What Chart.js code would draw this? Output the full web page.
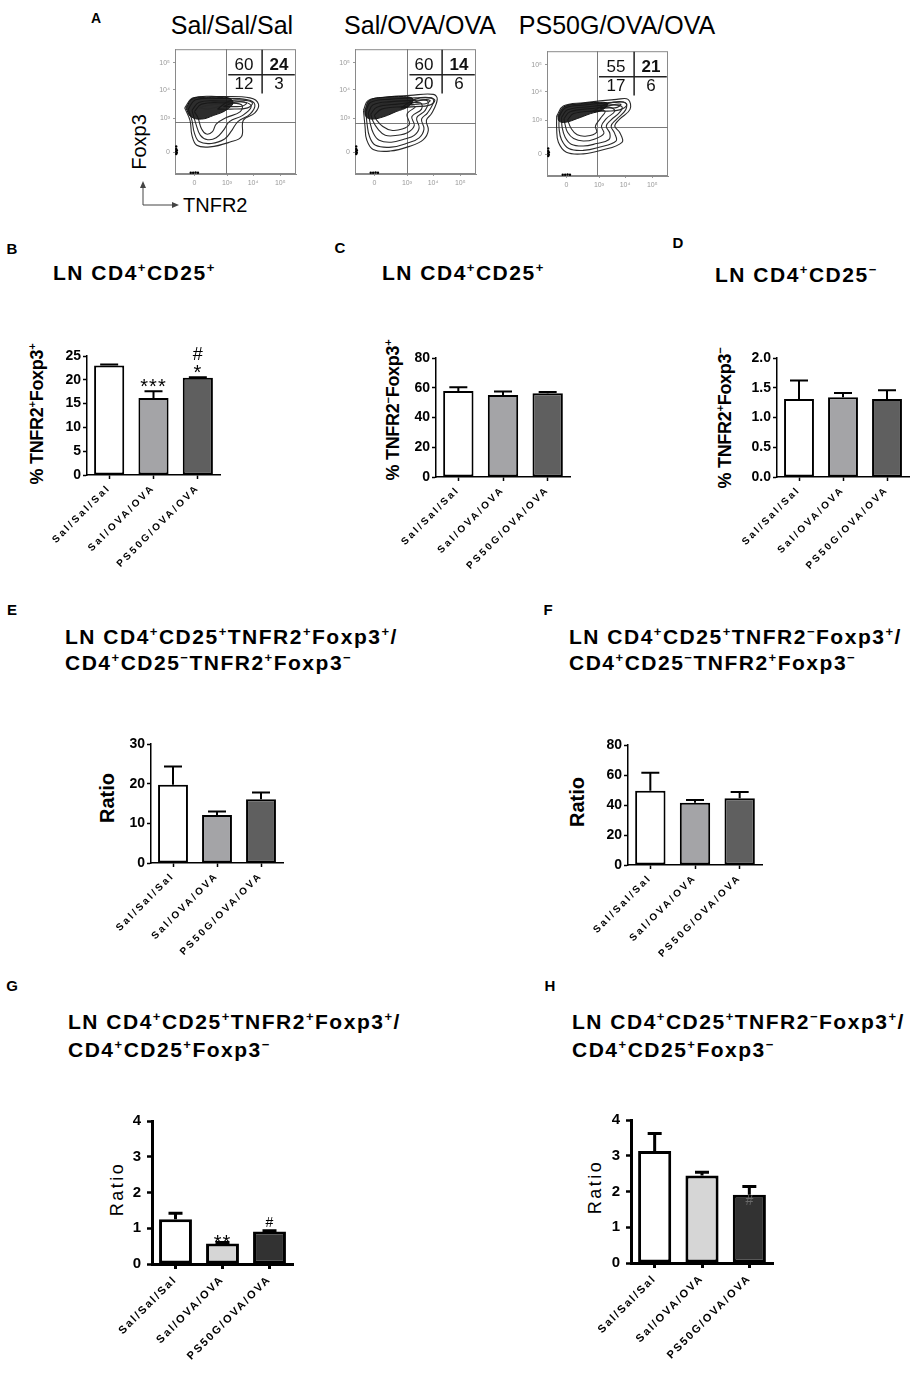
<!DOCTYPE html>
<html><head><meta charset="utf-8">
<script src="https://cdn.jsdelivr.net/npm/chart.js@4.4.1/dist/chart.umd.min.js"></script>
<style>
html,body{margin:0;padding:0;background:#fff;}
#page{position:relative;width:919px;height:1375px;overflow:hidden;font-family:'Liberation Sans',Arial,sans-serif;color:#000;background:#fff;}
.lt{position:absolute;font-weight:bold;font-size:15px;transform:translate(-50%,-50%);}
.ttl{position:absolute;font-weight:bold;font-size:21px;letter-spacing:1.5px;line-height:26px;white-space:nowrap;}
sup{font-size:62%;position:relative;top:-0.6em;vertical-align:baseline;line-height:0;}
.yt{position:absolute;white-space:nowrap;transform:translate(-50%,-50%) rotate(-90deg);font-weight:bold;}
.ft{position:absolute;font-size:25px;white-space:nowrap;transform:translate(-50%,-50%);}
canvas{display:block;}
</style></head>
<body>
<div id="page">
  <!-- panel A texts -->
  <div class="lt" style="left:96px;top:18px;font-size:14px">A</div>
  <div class="ft" style="left:232px;top:25px">Sal/Sal/Sal</div>
  <div class="ft" style="left:420px;top:25px">Sal/OVA/OVA</div>
  <div class="ft" style="left:617px;top:25px">PS50G/OVA/OVA</div>
  <div class="yt" style="left:139px;top:142px;font-weight:normal;font-size:20px">Foxp3</div>
  <div style="position:absolute;left:183px;top:193px;font-size:20px;line-height:24px">TNFR2</div>
  <svg style="position:absolute;left:0;top:0" width="300" height="230">
    <path d="M143 205 L143 184 M143 205 L176 205" stroke="#444" stroke-width="1" fill="none"/>
    <path d="M140 188 L143 181 L146 188 Z M172 202 L179 205 L172 208 Z" fill="#444"/>
  </svg>

  <!-- letters -->
  <div class="lt" style="left:12px;top:248px">B</div>
  <div class="lt" style="left:340px;top:247px">C</div>
  <div class="lt" style="left:678px;top:242px">D</div>
  <div class="lt" style="left:12px;top:609px">E</div>
  <div class="lt" style="left:548px;top:609px">F</div>
  <div class="lt" style="left:12px;top:985px">G</div>
  <div class="lt" style="left:550px;top:985px">H</div>

  <!-- titles -->
  <div class="ttl" style="left:53px;top:260px">LN CD4<sup>+</sup>CD25<sup>+</sup></div>
  <div class="ttl" style="left:382px;top:260px">LN CD4<sup>+</sup>CD25<sup>+</sup></div>
  <div class="ttl" style="left:715px;top:262px">LN CD4<sup>+</sup>CD25<sup>−</sup></div>
  <div class="ttl" style="left:65px;top:624px">LN CD4<sup>+</sup>CD25<sup>+</sup>TNFR2<sup>+</sup>Foxp3<sup>+</sup>/<br>CD4<sup>+</sup>CD25<sup>−</sup>TNFR2<sup>+</sup>Foxp3<sup>−</sup></div>
  <div class="ttl" style="left:569px;top:624px">LN CD4<sup>+</sup>CD25<sup>+</sup>TNFR2<sup>−</sup>Foxp3<sup>+</sup>/<br>CD4<sup>+</sup>CD25<sup>−</sup>TNFR2<sup>+</sup>Foxp3<sup>−</sup></div>
  <div class="ttl" style="left:68px;top:1008px;line-height:28px">LN CD4<sup>+</sup>CD25<sup>+</sup>TNFR2<sup>+</sup>Foxp3<sup>+</sup>/<br>CD4<sup>+</sup>CD25<sup>+</sup>Foxp3<sup>−</sup></div>
  <div class="ttl" style="left:572px;top:1008px;line-height:28px">LN CD4<sup>+</sup>CD25<sup>+</sup>TNFR2<sup>−</sup>Foxp3<sup>+</sup>/<br>CD4<sup>+</sup>CD25<sup>+</sup>Foxp3<sup>−</sup></div>

  <!-- y titles -->
  <div class="yt" style="left:37px;top:414px;font-size:18px;letter-spacing:-0.3px">% TNFR2<sup>+</sup>Foxp3<sup>+</sup></div>
  <div class="yt" style="left:393px;top:410px;font-size:18px;letter-spacing:-0.3px">% TNFR2<sup>−</sup>Foxp3<sup>+</sup></div>
  <div class="yt" style="left:725px;top:418px;font-size:18px;letter-spacing:-0.3px">% TNFR2<sup>+</sup>Foxp3<sup>−</sup></div>
  <div class="yt" style="left:107px;top:798px;font-size:20px">Ratio</div>
  <div class="yt" style="left:577px;top:802px;font-size:20px">Ratio</div>
  <div class="yt" style="left:117px;top:1189px;font-size:18px;font-weight:normal;letter-spacing:2.5px">Ratio</div>
  <div class="yt" style="left:595px;top:1187px;font-size:18px;font-weight:normal;letter-spacing:2.5px">Ratio</div>
</div>

<script>
// ---------------- DATA ----------------
const groups = ['Sal/Sal/Sal', 'Sal/OVA/OVA', 'PS50G/OVA/OVA'];

// Panel A (flow cytometry): quadrant percentages
const quadTL = [60, 60, 55];
const quadTR = [24, 14, 21];
const quadBL = [12, 20, 17];
const quadBR = [3, 6, 6];
const gateX = [42, 43, 41];
const gateY = [42, 41, 39];
const flowTickPos = [16, 43, 64.5, 87];
const flowTickPosY = [17.5, 44.5, 67.5, 89];
const flowTickLabels = ['0', '10³', '10⁴', '10⁵'];

// contour outlines (relative logicle units 0-100)
const coreA1 = [[9,53],[15,60.5],[30,61.5],[44,61],[48,57],[42,51],[32,47],[22,44],[13,46]];
const coreA2 = [[8,51],[12,59],[25,61.5],[40,62],[48,60],[44,54],[34,50],[24,46],[14,44],[9,46]];
const coreA3 = [[9,48],[14,55.5],[28,58],[42,59],[50,58],[46,53],[36,50],[25,46],[15,43],[10,44]];
const contoursA1 = [
  [[8,53],[15,61],[37,62],[62,61],[69,56],[66,49],[56.5,43],[55,30],[45.5,25.6],[29,21.7],[18,23],[14,31],[12.4,43]],
  [[11,52],[17,59.5],[37,60.5],[60,59.5],[66,55.5],[62,48],[52,42],[47,35],[41,28],[30,24.5],[20,26],[16,33],[14,43]],
  [[14,51],[20,57.5],[37,58.5],[58,57.5],[63,54],[56,47],[45,42],[40,35],[34,29],[27,27.5],[21,31],[17,41]],
  [[16,50],[22,56],[40,57],[55,55.5],[54,50],[42,45],[34,40],[31,34],[26,32],[22,36],[19,45]],
  [[35,52],[45,58.5],[58,59],[64,57],[60,53],[46,52]],
  [[40,54],[50,57.5],[59,57],[56,54.5],[48,54]]
];
const contoursA2 = [
  [[7,51],[11,59],[26,61.7],[45.5,63],[64.7,63.8],[68,60],[63.4,48.6],[59,43],[60.6,35],[56.5,27.6],[45.5,22.3],[29,18.4],[15,19.7],[9.6,27.6],[8.3,38]],
  [[9,50],[13,57.5],[30,60],[50,61],[63,61],[65,58],[60,49],[55,44],[57,36],[53,29],[44,25],[30,21.5],[17,23],[12,30],[10,40]],
  [[11,49],[15,55.5],[30,58],[50,59],[60,58.5],[58,51],[51,45],[53,37],[49,31],[41,28],[30,25.5],[20,27],[15,33],[12.5,41]],
  [[13,48],[18,53.5],[35,56],[54,57],[55,52],[47,46],[49,39],[44,33.5],[35,31],[25,31],[19,36],[15,42]],
  [[16,47],[22,52],[40,54],[50,54],[43,48],[45,40],[39,36],[30,35],[23,38],[18,43]],
  [[38,53],[50,60],[62,61],[66,59],[61,55],[50,54]],
  [[44,55.5],[54,59],[62,59],[59,56.5],[52,56]]
];
const contoursA3 = [
  [[8,48],[13.5,56],[30,58.7],[57.6,61.4],[67,61.4],[68.6,53.4],[60,45.5],[56,40],[60,35],[62,27],[44,20.4],[30,17.7],[16,19],[9.4,27],[8,37.5]],
  [[10,47.5],[15,54.5],[32,57],[56,59],[65,58.5],[65,53],[57,45],[53,40],[56,34],[57,28],[43,23],[30,20.5],[18,22],[12,29],[10,38]],
  [[12,47],[17,53],[34,55.5],[55,57],[62,55.5],[60,51],[53,45],[49,40],[52,34],[51,29],[41,26],[30,24],[20,25.5],[15,31],[12.5,39]],
  [[14,46],[19,51.5],[36,54],[52,55],[56,52],[49,46],[45,40],[47,34],[39,29.5],[30,28],[22,30],[17,35],[15,41]],
  [[17,45],[22,50],[38,52],[48,52],[44,46],[40,40],[41,35],[33,32],[25,33],[20,38]],
  [[38,52],[50,58],[62,59.5],[66,57],[60,53],[50,52]],
  [[44,54],[54,57],[61,57.5],[58,55],[51,54.5]]
];
const streakA1 = [[20,53],[27,55],[36,56],[42,55.5],[36,54],[27,52]];
const streakA2 = [[20,55],[28,57.5],[38,58],[44,57.5],[38,56],[28,55]];
const streakA3 = [[20,52],[28,54.5],[38,55.5],[45,55],[38,53],[28,52]];
const axisEvents = [[1,16],[1,18],[1,20],[1.5,17],[1.5,19],[1,22],[13,1],[15,1],[17,1.2],[19,1]];

// Bar panels
const valuesB = [23.0, 16.2, 20.45];  const errorsB = [0.2, 1.4, 0.1];
const valuesC = [57.8, 55.1, 56.3];   const errorsC = [2.5, 2.3, 0.8];
const valuesD = [1.31, 1.34, 1.31];   const errorsD = [0.31, 0.07, 0.15];
const valuesE = [19.7, 12.1, 16.1];   const errorsE = [4.6, 0.9, 1.7];
const valuesF = [49.5, 41.5, 44.5];   const errorsF = [12, 1.8, 4.2];
const valuesG = [1.25, 0.57, 0.91];   const errorsG = [0.17, 0.03, 0.02];
const valuesH = [3.13, 2.45, 1.91];   const errorsH = [0.49, 0.09, 0.23];
const marksB = [[], ['***'], ['*', '#']];
const marksG = [[], ['**'], ['#']];
const marksH = [[], [], ['#']];
const ticksB = [0, 5, 10, 15, 20, 25];
const ticksC = [0, 20, 40, 60, 80];
const ticksD = [0, 0.5, 1.0, 1.5, 2.0];
const ticksE = [0, 10, 20, 30];
const ticksF = [0, 20, 40, 60, 80];
const ticksG = [0, 1, 2, 3, 4];
const ticksH = [0, 1, 2, 3, 4];

// ---------------- RENDER ----------------
const FONT = "'Liberation Sans', Arial, sans-serif";
Chart.defaults.font.family = FONT;
Chart.defaults.color = '#000';

function makeCanvas(left, top, w, h) {
  const c = document.createElement('canvas');
  c.width = w; c.height = h;
  c.style.width = w + 'px'; c.style.height = h + 'px';
  c.style.position = 'absolute'; c.style.left = left + 'px'; c.style.top = top + 'px';
  document.getElementById('page').appendChild(c);
  return c;
}

const errorBarPlugin = {
  id: 'errorBars',
  afterDatasetsDraw(chart, args, opts) {
    const ds = chart.data.datasets[0];
    if (!ds.errors) return;
    const meta = chart.getDatasetMeta(0), y = chart.scales.y, ctx = chart.ctx;
    ctx.save();
    ctx.strokeStyle = '#000'; ctx.lineWidth = opts.lineWidth; ctx.lineCap = 'butt';
    meta.data.forEach((bar, i) => {
      const yv = y.getPixelForValue(ds.data[i]);
      const ye = y.getPixelForValue(ds.data[i] + ds.errors[i]);
      ctx.beginPath();
      ctx.moveTo(bar.x, yv); ctx.lineTo(bar.x, ye);
      ctx.moveTo(bar.x - opts.cap / 2, ye); ctx.lineTo(bar.x + opts.cap / 2, ye);
      ctx.stroke();
    });
    ctx.restore();
  }
};

const marksPlugin = {
  id: 'sigMarks',
  afterDatasetsDraw(chart, args, opts) {
    const ds = chart.data.datasets[0];
    if (!ds.marks) return;
    const meta = chart.getDatasetMeta(0), y = chart.scales.y, ctx = chart.ctx;
    ds.marks.forEach((list, i) => {
      if (!list.length) return;
      const top = y.getPixelForValue(ds.data[i] + ds.errors[i]);
      const gap0 = list[0].indexOf('*') >= 0 ? opts.starGap : opts.hashGap;
      list.forEach((m, k) => {
        const star = m.indexOf('*') >= 0;
        const fs = star ? opts.starSize : opts.hashSize;
        ctx.save();
        ctx.font = fs + 'px ' + FONT;
        ctx.fillStyle = star ? '#000' : (opts.hashColor || '#000');
        ctx.textAlign = 'center'; ctx.textBaseline = 'alphabetic';
        ctx.letterSpacing = star ? '1px' : '0px';
        const mt = ctx.measureText(m);
        const yc = top - gap0 - k * opts.step;
        ctx.fillText(m, meta.data[i].x, yc + (mt.actualBoundingBoxAscent - mt.actualBoundingBoxDescent) / 2);
        ctx.restore();
      });
    });
  }
};

const spacingPlugin = {
  id: 'xSpacing',
  afterLayout(chart, args, opts) {
    const s = chart.scales.x;
    if (!s || s._lsPatched) return;
    const proto = Object.getPrototypeOf(s);
    const px = opts.px || 0;
    s.drawLabels = function (ca) {
      const c = this.ctx; c.save(); c.letterSpacing = px + 'px';
      proto.drawLabels.call(this, ca); c.restore();
    };
    s._lsPatched = true;
  }
};

function barChart(p) {
  const heavy = !!p.heavy;
  const padL = 60, padT = 12, padR = 12, padB = 115;
  const w = p.x1 - p.x0, h = p.yBot - p.yTop;
  const c = makeCanvas(p.x0 - padL, p.yTop - padT, padL + w + padR, padT + h + padB);
  new Chart(c, {
    type: 'bar',
    data: {
      labels: groups,
      datasets: [{
        data: p.values, errors: p.errors, marks: p.marks,
        backgroundColor: p.colors, borderColor: '#000',
        borderWidth: heavy ? 3 : 2, borderSkipped: false,
        barPercentage: heavy ? 0.70 : 0.68, categoryPercentage: 1
      }]
    },
    plugins: [errorBarPlugin, marksPlugin, spacingPlugin],
    options: {
      responsive: false, animation: false, events: [],
      layout: { padding: { left: 0, top: padT, right: padR, bottom: 0 } },
      plugins: {
        legend: { display: false }, tooltip: { enabled: false },
        errorBars: { lineWidth: heavy ? 3 : 2, cap: heavy ? 14 : 18 },
        sigMarks: p.markOpts || {},
        xSpacing: { px: heavy ? 2 : 2.5 }
      },
      scales: {
        x: {
          offset: true,
          grid: { display: true, drawOnChartArea: false, offset: false, tickLength: heavy ? 5 : 4, tickWidth: heavy ? 3 : 1.5, tickColor: '#000' },
          border: { display: true, color: '#000', width: heavy ? 3 : 1.5 },
          ticks: { autoSkip: false, maxRotation: 45, minRotation: 45, padding: heavy ? 4 : 3, color: '#000', font: { size: heavy ? 11 : 10, weight: 'bold' } },
          afterFit(s) { s.height = padB; }
        },
        y: {
          min: 0, max: p.ticks[p.ticks.length - 1],
          afterBuildTicks(s) { s.ticks = p.ticks.map(v => ({ value: v })); },
          grid: { display: true, drawOnChartArea: false, tickLength: heavy ? 5 : 4, tickWidth: heavy ? 2.5 : 1.5, tickColor: '#000' },
          border: { display: true, color: '#000', width: heavy ? 3 : 1.5 },
          ticks: { padding: heavy ? 6 : 2, color: '#000', font: { size: heavy ? 15 : 14, weight: 'bold' },
                   callback: p.fmt || (v => v) },
          afterFit(s) { s.width = padL; }
        }
      }
    }
  });
}

const flowPlugin = {
  id: 'flowOverlay',
  beforeDatasetsDraw(chart, args, opts) {
    const i = opts.idx, x = chart.scales.x, y = chart.scales.y, ctx = chart.ctx, ca = chart.chartArea;
    ctx.save();
    ctx.strokeStyle = '#8a8a8a'; ctx.lineWidth = 1;
    ctx.strokeRect(ca.left + 0.5, ca.top + 0.5, ca.width - 1, ca.height - 1);
    ctx.strokeStyle = '#7a7a7a';
    const gx = Math.round(x.getPixelForValue(gateX[i])) + 0.5;
    const gy = Math.round(y.getPixelForValue(gateY[i])) + 0.5;
    ctx.beginPath();
    ctx.moveTo(gx, ca.top); ctx.lineTo(gx, ca.bottom);
    ctx.moveTo(ca.left, gy); ctx.lineTo(ca.right, gy);
    ctx.stroke();
    ctx.restore();
  },
  afterDatasetsDraw(chart, args, opts) {
    const i = opts.idx, x = chart.scales.x, y = chart.scales.y, ctx = chart.ctx;
    ctx.save();
    ctx.strokeStyle = '#222'; ctx.lineWidth = 1.5;
    ctx.beginPath();
    ctx.moveTo(x.getPixelForValue(gateX[i] + 2), y.getPixelForValue(79.5));
    ctx.lineTo(x.getPixelForValue(99), y.getPixelForValue(79.5));
    ctx.moveTo(x.getPixelForValue(72), y.getPixelForValue(99.5));
    ctx.lineTo(x.getPixelForValue(72), y.getPixelForValue(64.5));
    ctx.stroke();
    ctx.fillStyle = '#111'; ctx.textAlign = 'center'; ctx.textBaseline = 'middle';
    const cells = [[quadTL[i], 57, 87, false], [quadTR[i], 86, 87, true], [quadBL[i], 57, 72, false], [quadBR[i], 86, 72, false]];
    cells.forEach(cl => {
      ctx.font = (cl[3] ? 'bold ' : '') + '17px ' + FONT;
      ctx.fillText(String(cl[0]), x.getPixelForValue(cl[1]), y.getPixelForValue(cl[2]));
    });
    ctx.restore();
  }
};

function flowChart(i, left, top, core, contours, streak) {
  const W = 121, H = 126, padL = 32, padT = 6, padR = 6, padB = 24;
  const c = makeCanvas(left - padL, top - padT, padL + W + padR, padT + H + padB);
  const loop = a => a.concat([a[0]]).map(p => ({ x: p[0], y: p[1] }));
  const ds = [];
  ds.push({ data: loop(core), showLine: true, fill: 'shape', backgroundColor: 'rgba(22,22,22,0.9)', borderColor: '#111', borderWidth: 1, pointRadius: 0, tension: 0.4 });
  contours.forEach(ct => ds.push({ data: loop(ct), showLine: true, fill: false, borderColor: '#2a2a2a', borderWidth: 1.1, pointRadius: 0, tension: 0.4 }));
  ds.push({ data: loop(streak), showLine: true, fill: false, borderColor: 'rgba(200,200,200,0.8)', borderWidth: 1.3, pointRadius: 0, tension: 0.4 });
  ds.push({ data: axisEvents.map(p => ({ x: p[0], y: p[1] })), showLine: false, pointRadius: 1.2, pointBackgroundColor: '#000', pointBorderWidth: 0 });
  const tickFont = { size: 7 };
  new Chart(c, {
    type: 'scatter',
    data: { datasets: ds },
    plugins: [flowPlugin],
    options: {
      responsive: false, animation: false, events: [],
      layout: { padding: { left: 0, top: padT, right: padR, bottom: 0 } },
      plugins: { legend: { display: false }, tooltip: { enabled: false }, flowOverlay: { idx: i } },
      scales: {
        x: {
          type: 'linear', min: 0, max: 100,
          afterBuildTicks(s) { s.ticks = flowTickPos.map(v => ({ value: v })); },
          ticks: { font: tickFont, color: '#999', padding: 3, maxRotation: 0, callback: (v, k) => flowTickLabels[k] },
          grid: { display: true, drawOnChartArea: false, tickLength: 2, tickColor: '#999' },
          border: { display: true, color: '#8a8a8a', width: 1 },
          afterFit(s) { s.height = padB; }
        },
        y: {
          type: 'linear', min: 0, max: 100,
          afterBuildTicks(s) { s.ticks = flowTickPosY.map(v => ({ value: v })); },
          ticks: { font: tickFont, color: '#999', padding: 3, callback: (v, k) => flowTickLabels[k] },
          grid: { display: true, drawOnChartArea: false, tickLength: 2, tickColor: '#999' },
          border: { display: true, color: '#8a8a8a', width: 1 },
          afterFit(s) { s.width = padL; }
        }
      }
    }
  });
}

flowChart(0, 175, 48, coreA1, contoursA1, streakA1);
flowChart(1, 355, 48, coreA2, contoursA2, streakA2);
flowChart(2, 547, 50, coreA3, contoursA3, streakA3);

const colors1 = ['#ffffff', '#a4a4a7', '#5f5f5f'];
const colors2 = ['#ffffff', '#d6d6d6', '#323232'];

barChart({ x0: 87, x1: 220, yTop: 356, yBot: 475, values: valuesB, errors: errorsB, marks: marksB, ticks: ticksB, colors: colors1,
  markOpts: { starGap: 8.5, hashGap: 8, step: 15, starSize: 20, hashSize: 18 } });
barChart({ x0: 436, x1: 570, yTop: 358, yBot: 477, values: valuesC, errors: errorsC, ticks: ticksC, colors: colors1 });
barChart({ x0: 777, x1: 909, yTop: 358, yBot: 477, values: valuesD, errors: errorsD, ticks: ticksD, colors: colors1, fmt: v => v.toFixed(1) });
barChart({ x0: 151, x1: 283, yTop: 744, yBot: 863, values: valuesE, errors: errorsE, ticks: ticksE, colors: colors1 });
barChart({ x0: 628, x1: 762, yTop: 745, yBot: 865, values: valuesF, errors: errorsF, ticks: ticksF, colors: colors1 });
barChart({ x0: 152, x1: 293, yTop: 1118, yBot: 1264, values: valuesG, errors: errorsG, marks: marksG, ticks: ticksG, colors: colors2, heavy: true,
  markOpts: { starGap: 4, hashGap: 9, step: 15, starSize: 20, hashSize: 14 } });
barChart({ x0: 631, x1: 773, yTop: 1117, yBot: 1263, values: valuesH, errors: errorsH, marks: marksH, ticks: ticksH, colors: colors2, heavy: true,
  markOpts: { starGap: 4, hashGap: -14, step: 15, starSize: 20, hashSize: 14, hashColor: '#6a6a6a' } });
</script>
</body></html>
